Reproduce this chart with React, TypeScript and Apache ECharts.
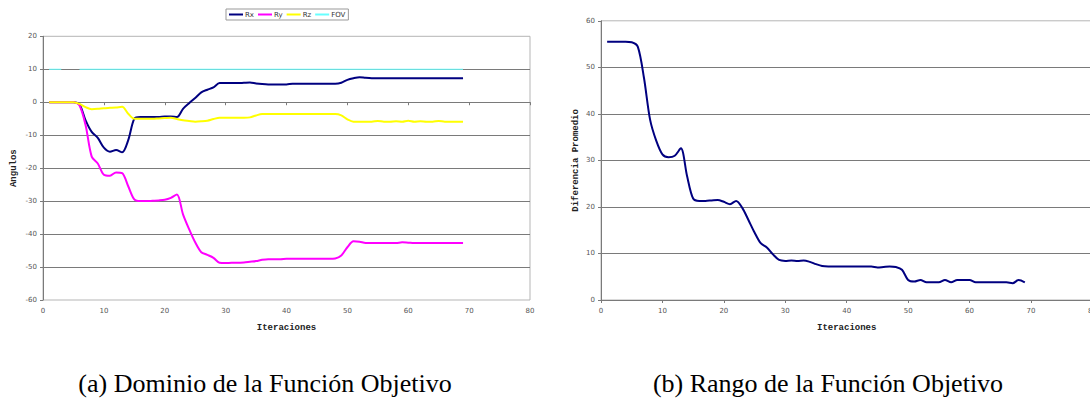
import React, { useEffect, useRef } from "react";
import * as echarts from "echarts";

const iterations = Array.from({ length: 69 }, (_, i) => i + 1);

const rx = [
  0, 0, 0, 0, 0, -0.7, -5.5, -9.0, -10.8, -13.8,
  -15.0, -14.5, -15.2, -11.5, -5.0, -4.5, -4.5, -4.5, -4.5, -4.3,
  -4.3, -4.5, -2.0, -0.3, 1.3, 3.0, 3.8, 4.5, 5.8, 5.8,
  5.8, 5.8, 5.9, 6.0, 5.7, 5.5, 5.4, 5.4, 5.4, 5.4,
  5.6, 5.6, 5.6, 5.6, 5.6, 5.6, 5.6, 5.6, 5.9, 6.8,
  7.3, 7.6, 7.4, 7.3, 7.3, 7.3, 7.3, 7.3, 7.3, 7.3,
  7.3, 7.3, 7.3, 7.3, 7.3, 7.3, 7.3, 7.3, 7.3,
];

const ry = [
  0, 0, 0, 0, 0, -1.0, -7.0, -16.5, -18.6, -22.0,
  -22.3, -21.3, -21.5, -25.5, -29.5, -30.0, -30.0, -29.9, -29.8, -29.6,
  -29.0, -28.0, -34.0, -38.5, -42.5, -45.5, -46.3, -47.2, -48.7, -48.8,
  -48.7, -48.7, -48.6, -48.4, -48.2, -47.8, -47.6, -47.6, -47.6, -47.5,
  -47.5, -47.5, -47.5, -47.5, -47.5, -47.5, -47.5, -47.4, -46.5, -44.0,
  -42.2, -42.3, -42.7, -42.7, -42.7, -42.7, -42.7, -42.7, -42.5, -42.6,
  -42.7, -42.7, -42.7, -42.7, -42.7, -42.7, -42.7, -42.7, -42.7,
];

const rz = [
  0, 0, 0, 0, 0, -0.5, -1.5, -2.1, -2.0, -1.8,
  -1.7, -1.6, -1.4, -3.5, -5.0, -5.0, -5.0, -5.0, -4.9, -4.8,
  -4.7, -5.1, -5.5, -5.7, -5.9, -5.8, -5.6, -5.1, -4.7, -4.7,
  -4.7, -4.7, -4.7, -4.6, -4.0, -3.6, -3.6, -3.6, -3.6, -3.6,
  -3.6, -3.6, -3.6, -3.6, -3.6, -3.6, -3.6, -3.6, -4.0, -5.2,
  -5.9, -5.9, -5.9, -5.9, -5.7, -5.9, -5.9, -5.8, -5.9, -5.6,
  -5.9, -5.8, -5.9, -5.9, -5.7, -5.9, -5.9, -5.9, -5.9,
];

const fov: (number | null)[] = [
  10, 10, 10, null, null, 10, 10, 10, 10, 10,
  10, 10, 10, 10, 10, 10, 10, 10, 10, 10,
  10, 10, 10, 10, 10, 10, 10, 10, 10, 10,
  10, 10, 10, 10, 10, 10, 10, 10, 10, 10,
  10, 10, 10, 10, 10, 10, 10, 10, 10, 10,
  10, 10, 10, 10, 10, 10, 10, 10, 10, 10,
  10, 10, 10, 10, 10, 10, 10, 10, 10,
];

const diferencia = [
  55.5, 55.5, 55.5, 55.5, 55.4, 54.4, 47.7, 38.7, 34.2, 31.3,
  30.7, 31.0, 32.6, 26.7, 21.8, 21.3, 21.3, 21.4, 21.5, 21.1,
  20.6, 21.3, 19.8, 17.2, 14.5, 12.2, 11.3, 9.8, 8.6, 8.4,
  8.5, 8.4, 8.5, 8.2, 7.7, 7.3, 7.2, 7.2, 7.2, 7.2,
  7.2, 7.2, 7.2, 7.2, 7.0, 7.1, 7.2, 7.1, 6.5, 4.3,
  3.95, 4.3, 3.8, 3.8, 3.8, 4.3, 3.8, 4.3, 4.3, 4.3,
  3.8, 3.8, 3.8, 3.8, 3.8, 3.8, 3.6, 4.3, 3.8,
];

const seriesNames = ["Rx", "Ry", "Rz", "FOV"];
const captionA = "(a) Dominio de la Función Objetivo";
const captionB = "(b) Rango de la Función Objetivo";

const pairs = (vals: (number | null)[]) => iterations.map((it, i) => [it, vals[i]]);

const tickLabel = { fontSize: 7, color: "#555", fontFamily: "DejaVu Sans" };
const nameStyle = { fontSize: 9, fontWeight: "bold", color: "#222", fontFamily: "Liberation Mono" };
const gridLineColor = "#7a7a7a";

export default function App() {
  const ref = useRef<HTMLDivElement>(null);
  useEffect(() => {
    if (!ref.current) return;
    const chart = echarts.init(ref.current, null, { renderer: "svg" });
    const lineBase = { type: "line", showSymbol: false, smooth: 0.3, silent: true };
    chart.setOption({
      animation: false,
      backgroundColor: "#fff",
      legend: {
        data: seriesNames,
        left: 226,
        top: 9,
        icon: "rect",
        itemWidth: 14,
        itemHeight: 2,
        itemGap: 4,
        padding: [2, 3, 2, 3],
        borderColor: "#999",
        borderWidth: 1,
        backgroundColor: "#fff",
        textStyle: { fontSize: 7, color: "#333", fontFamily: "DejaVu Sans", padding: [0, 0, 0, -3] },
      },
      grid: [
        { left: 43, top: 36.3, width: 487, height: 263.7, show: true, borderColor: "#b5b5b5", borderWidth: 1, outerBoundsMode: "none" },
        { left: 601, top: 20.8, width: 491.4, height: 279.2, show: true, borderColor: "#b5b5b5", borderWidth: 1, outerBoundsMode: "none" },
      ],
      xAxis: [
        {
          gridIndex: 0, type: "value", min: 0, max: 80, interval: 10, position: "bottom",
          axisLine: { show: false, onZero: false }, axisTick: { show: false }, splitLine: { show: false },
          axisLabel: { ...tickLabel, margin: 7 },
          name: "Iteraciones", nameLocation: "middle", nameGap: 23, nameTextStyle: nameStyle,
        },
        {
          gridIndex: 0, type: "value", min: 0, max: 80, interval: 10, position: "top",
          axisLine: { show: true, onZero: true, lineStyle: { color: gridLineColor, width: 1 } },
          axisTick: { show: true, inside: true, length: 3, lineStyle: { color: gridLineColor } },
          axisLabel: { show: false }, splitLine: { show: false },
        },
        {
          gridIndex: 1, type: "value", min: 0, max: 80, interval: 10, position: "bottom",
          axisLine: { show: true, onZero: false, lineStyle: { color: gridLineColor, width: 1 } },
          axisTick: { show: true, length: 3, lineStyle: { color: gridLineColor } },
          splitLine: { show: false },
          axisLabel: { ...tickLabel, margin: 7 },
          name: "Iteraciones", nameLocation: "middle", nameGap: 23, nameTextStyle: nameStyle,
        },
      ],
      yAxis: [
        {
          gridIndex: 0, type: "value", min: -60, max: 20, interval: 10,
          axisLine: { show: true, lineStyle: { color: gridLineColor, width: 1 } },
          axisTick: { show: true, length: 3, lineStyle: { color: gridLineColor } },
          axisLabel: { ...tickLabel, margin: 6 },
          splitLine: { show: true, showMinLine: false, showMaxLine: false, lineStyle: { color: gridLineColor, width: 1 } },
          name: "Angulos", nameLocation: "middle", nameGap: 25, nameTextStyle: nameStyle,
        },
        {
          gridIndex: 1, type: "value", min: 0, max: 60, interval: 10,
          axisLine: { show: true, lineStyle: { color: gridLineColor, width: 1 } },
          axisTick: { show: true, length: 3, lineStyle: { color: gridLineColor } },
          axisLabel: { ...tickLabel, margin: 6 },
          splitLine: { show: true, showMinLine: false, showMaxLine: false, lineStyle: { color: gridLineColor, width: 1 } },
          name: "Diferencia Promedio", nameLocation: "middle", nameGap: 21, nameTextStyle: nameStyle,
        },
      ],
      series: [
        { ...lineBase, name: "Rx", xAxisIndex: 0, yAxisIndex: 0, data: pairs(rx), itemStyle: { color: "#000080" }, lineStyle: { color: "#000080", width: 2 } },
        { ...lineBase, name: "Ry", xAxisIndex: 0, yAxisIndex: 0, data: pairs(ry), itemStyle: { color: "#ff00ff" }, lineStyle: { color: "#ff00ff", width: 2 } },
        { ...lineBase, name: "Rz", xAxisIndex: 0, yAxisIndex: 0, data: pairs(rz), itemStyle: { color: "#ffff00" }, lineStyle: { color: "#ffff00", width: 2 } },
        { ...lineBase, name: "FOV", smooth: false, connectNulls: false, xAxisIndex: 0, yAxisIndex: 0, data: pairs(fov), itemStyle: { color: "#66ffff" }, lineStyle: { color: "#66ffff", width: 1.2 } },
        { ...lineBase, name: "Diferencia", xAxisIndex: 2, yAxisIndex: 1, data: pairs(diferencia), itemStyle: { color: "#000080" }, lineStyle: { color: "#000080", width: 2 } },
      ],
      graphic: [
        {
          type: "text", x: 265, y: 383,
          style: { text: captionA, fontSize: 26, fontFamily: "Liberation Serif", fill: "#000", textAlign: "center", textVerticalAlign: "middle" },
        },
        {
          type: "text", x: 828, y: 383,
          style: { text: captionB, fontSize: 26, fontFamily: "Liberation Serif", fill: "#000", textAlign: "center", textVerticalAlign: "middle" },
        },
      ],
    });
    return () => chart.dispose();
  }, []);
  return <div ref={ref} style={{ position: "fixed", left: 0, top: 0, width: 1090, height: 406 }} />;
}
